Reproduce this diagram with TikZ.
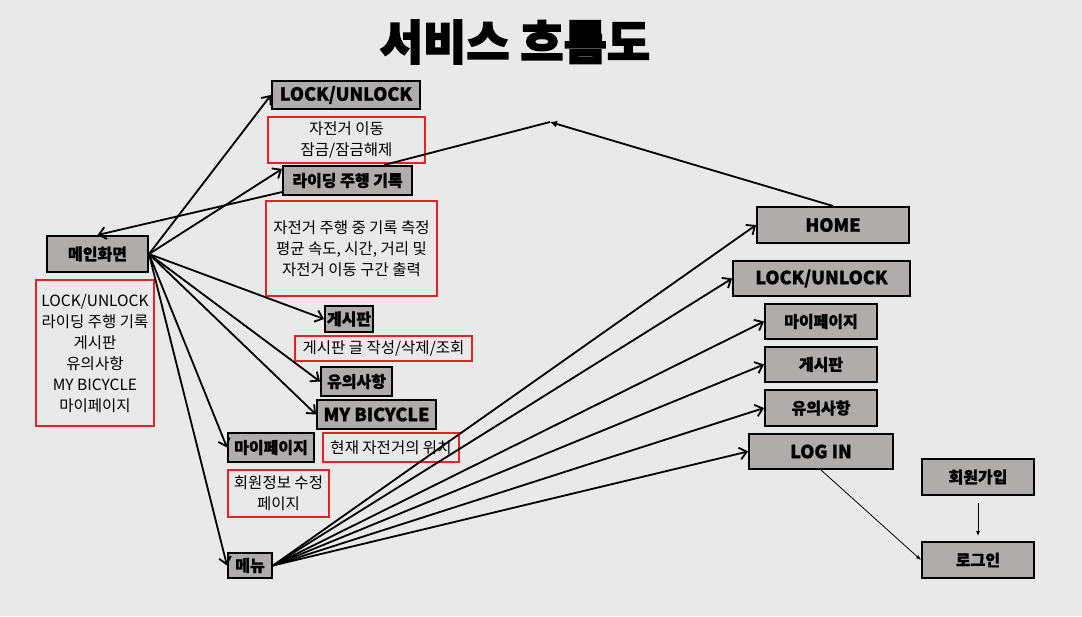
\documentclass[tikz,border=0pt]{standalone}
\usepackage{fontspec}
\setmainfont{Noto Sans CJK KR}[BoldFeatures={FakeBold=1.2}]
\newfontfamily\heavyfont{Noto Sans CJK KR}[BoldFeatures={FakeBold=3}]
\usetikzlibrary{positioning, arrows.meta}

\definecolor{bggray}{RGB}{233,233,233}
\definecolor{boxgray}{RGB}{176,172,171}
\definecolor{boxred}{RGB}{232,32,40}

\begin{document}
\begin{tikzpicture}[x=1pt, y=-1pt,
    gbox/.style={draw=black, line width=2pt, fill=boxgray, inner sep=0pt,
      font=\bfseries\fontsize{16}{18}\selectfont},
    ebox/.style={gbox, font=\bfseries\fontsize{18}{20}\selectfont},
    rbox/.style={draw=boxred, line width=1.6pt, inner sep=0pt, align=center,
      font=\fontsize{15.5}{21}\selectfont},
    arr/.style={line width=1.8pt, -{Straight Barb[length=7pt,width=12pt]}},
    thinarr/.style={line width=0.8pt, -{Latex[length=5pt,width=4pt]}}]
  \fill[bggray] (0,0) rectangle (1082,616);
  \node[font=\heavyfont\bfseries\fontsize{47}{50}\selectfont] (title) at (515,42) {서비스 흐름도};

  % left side
  \node[gbox, minimum width=101, minimum height=36] (main) at (97.5,254) {메인화면};
  \node[rbox, minimum width=118, minimum height=146] (mainlist) at (95,353)
    {LOCK/UNLOCK\\라이딩 주행 기록\\게시판\\유의사항\\MY BICYCLE\\마이페이지};

  \node[ebox, minimum width=148, minimum height=28] (lock1) at (346,95) {LOCK/UNLOCK};
  \node[rbox, minimum width=157, minimum height=46] (lockinfo) at (346.5,140) {자전거 이동\\잠금/잠금해제};
  \node[gbox, minimum width=129, minimum height=29] (ride) at (347.5,180.5) {라이딩 주행 기록};
  \node[rbox, minimum width=171, minimum height=95] (rideinfo) at (351.5,248.5)
    {자전거 주행 중 기록 측정\\평균 속도, 시간, 거리 및\\자전거 이동 구간 출력};
  \node[gbox, minimum width=48, minimum height=26] (board1) at (349,319) {게시판};
  \node[rbox, minimum width=177, minimum height=25] (boardinfo) at (383.5,348.5) {게시판 글 작성/삭제/조회};
  \node[gbox, minimum width=71, minimum height=29] (notice1) at (356.5,381.5) {유의사항};
  \node[ebox, minimum width=119, minimum height=29] (bike) at (376.5,414.5) {MY BICYCLE};
  \node[gbox, minimum width=86, minimum height=29] (mypage1) at (271,447.5) {마이페이지};
  \node[rbox, minimum width=136, minimum height=29] (bikeinfo) at (391,447.5) {현재 자전거의 위치};
  \node[rbox, minimum width=101, minimum height=47] (mypageinfo) at (278.5,493.5) {회원정보 수정\\페이지};
  \node[gbox, minimum width=44, minimum height=25] (menu) at (250,565.5) {메뉴};

  % right side
  \node[ebox, minimum width=152, minimum height=36] (home) at (833,225) {HOME};
  \node[ebox, minimum width=177, minimum height=35] (lock2) at (821.5,278.5) {LOCK/UNLOCK};
  \node[gbox, minimum width=112, minimum height=35] (mypage2) at (821,321.5) {마이페이지};
  \node[gbox, minimum width=112, minimum height=35] (board2) at (821,364.5) {게시판};
  \node[gbox, minimum width=112, minimum height=36] (notice2) at (821,408) {유의사항};
  \node[ebox, minimum width=144, minimum height=35] (login) at (821,451.5) {LOG IN};
  \node[gbox, minimum width=112, minimum height=36] (join) at (978,477) {회원가입};
  \node[gbox, minimum width=112, minimum height=36] (signin) at (978,560) {로그인};

  % connectors
  \draw[arr] (main.east) -- (lock1.west);
  \draw[arr] (main.east) -- (ride.170);
  \draw[arr] (ride.190) -- (main.north);
  \foreach \t in {board1, notice1, bike, mypage1, menu}
    \draw[arr] (main.east) -- (\t.west);
  \foreach \t in {home, lock2, mypage2, board2, notice2, login}
    \draw[arr] (menu.east) -- (\t.west);

  \coordinate (bend) at (550,122);
  \draw[line width=1.8pt] (ride.23) -- (bend);
  \draw[line width=1.8pt, -{Latex[length=7pt,width=7pt]}] (home.north) -- (bend);

  \draw[thinarr] (login.south) -- (signin.west);
  \draw[thinarr, shorten <=7pt, shorten >=5pt] (join.south) -- (signin.north);
\end{tikzpicture}
\end{document}
